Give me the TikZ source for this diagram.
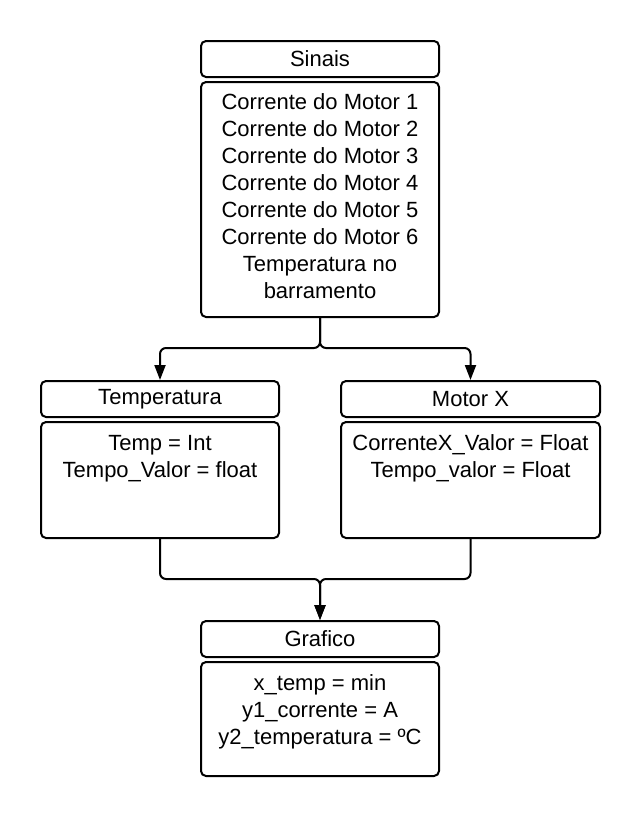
\documentclass[tikz,border=0pt]{standalone}
\usepackage{fontspec}
\setmainfont{Liberation Sans}
\usetikzlibrary{positioning, arrows.meta}
\tikzstyle{head} = [rectangle, draw, line width=2pt, rounded corners=5pt, minimum width=238pt, minimum height=36pt, inner sep=0pt]
\tikzstyle{body} = [rectangle, draw, line width=2pt, rounded corners=5pt, minimum width=238pt, inner sep=0pt]
\tikzstyle{fields} = [align=center, inner sep=0pt]
\tikzstyle{line} = [draw, line width=2pt, rounded corners=6pt, -{Triangle[length=15pt, width=11pt]}]

\begin{document}
\begin{tikzpicture}[x=1pt, y=-1pt, font=\fontsize{22}{27}\selectfont]
        \useasboundingbox (0,0) rectangle (642,820);
        % Nodes
        \node (sinais) [head] at (320,59) {Sinais};
        \node (sinais_body) [body, minimum height=235pt, below=3pt of sinais] {};
        \node (sinais_txt) [fields, below=9pt of sinais_body.north] {\strut Corrente do Motor 1\\Corrente do Motor 2\\Corrente do Motor 3\\Corrente do Motor 4\\Corrente do Motor 5\\Corrente do Motor 6\\Temperatura no\\barramento};

        \node (temperatura) [head] at (160,399) {Temperatura};
        \node (temperatura_body) [body, minimum height=116pt, below=3pt of temperatura] {};
        \node (temperatura_txt) [fields, below=10pt of temperatura_body.north] {\strut Temp = Int\\Tempo\_Valor = float};

        \node (motor) [head, minimum width=259pt] at (470.5,399) {Motor X};
        \node (motor_body) [body, minimum width=259pt, minimum height=116pt, below=3pt of motor] {};
        \node (motor_txt) [fields, below=10pt of motor_body.north] {\strut CorrenteX\_Valor = Float\\Tempo\_valor = Float};

        \node (grafico) [head] at (320,639) {Grafico};
        \node (grafico_body) [body, minimum height=114pt, below=3pt of grafico] {};
        \node (grafico_txt) [fields, below=10pt of grafico_body.north] {\strut x\_temp = min\\y1\_corrente = A\\y2\_temperatura = ºC};

        % Edges
        \path [line] (sinais_body.south) -- ++(0,30) -| (temperatura.north);
        \path [line] (sinais_body.south) -- ++(0,30) -| (motor.north);
        \path [line] (temperatura_body.south) -- ++(0,40) -| (grafico.north);
        \path [line] (motor_body.south) -- ++(0,40) -| (grafico.north);

\end{tikzpicture}
\end{document}
